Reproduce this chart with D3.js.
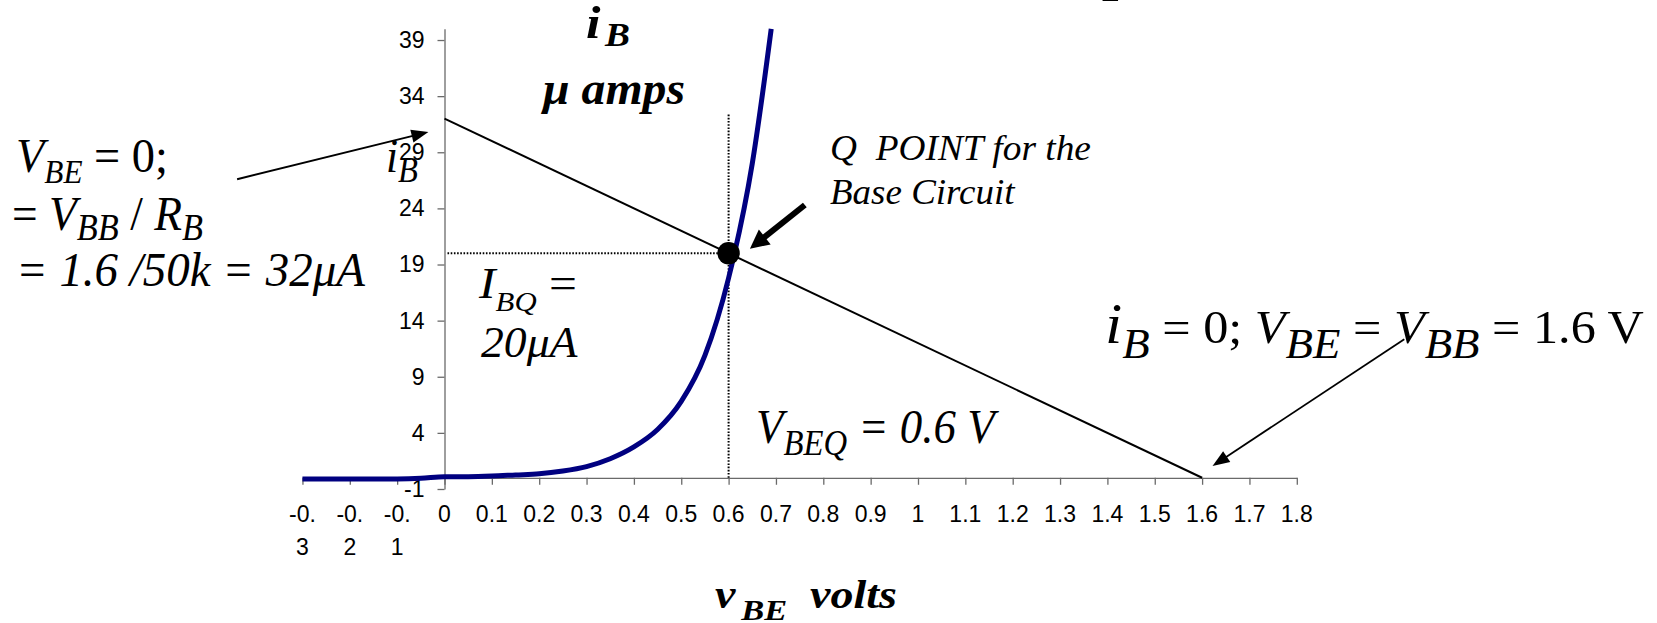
<!DOCTYPE html>
<html>
<head>
<meta charset="utf-8">
<script src="https://cdn.jsdelivr.net/npm/d3@7"></script>
<style>
  html, body { margin: 0; padding: 0; background: #fff; }
  svg { display: block; }
  text { white-space: pre; }
</style>
</head>
<body>
<svg id="chart" width="1657" height="623"></svg>
<script>
// Base-emitter input characteristic: v_BE (volts) against i_B (µA)
const vBE = [-0.3, -0.25, -0.2, -0.15, -0.1, -0.05, 0, 0.05, 0.1, 0.15, 0.2, 0.25, 0.3, 0.35, 0.4, 0.45, 0.5, 0.55, 0.6, 0.65, 0.69];
const iB  = [-0.1, -0.1, -0.1, -0.1, -0.1, -0.05, 0.1, 0.1, 0.15, 0.25, 0.35, 0.6, 1.0, 1.7, 2.75, 4.3, 6.8, 10.9, 17.8, 28.0, 40];

// DC load line of the base circuit (V_BB = 1.6 V, R_B = 50k)
const loadV = [0, 1.6];
const loadI = [32, 0];

// Operating (Q) point and its drop-line extent
const qV = 0.6;
const qI = 20;
const qDropTop = 32.5;

// Axis ticks
const xTicks = [-0.3, -0.2, -0.1, 0, 0.1, 0.2, 0.3, 0.4, 0.5, 0.6, 0.7, 0.8, 0.9, 1, 1.1, 1.2, 1.3, 1.4, 1.5, 1.6, 1.7, 1.8];
const xTickLabels = ["-0.3", "-0.2", "-0.1", "0", "0.1", "0.2", "0.3", "0.4", "0.5", "0.6", "0.7", "0.8", "0.9", "1", "1.1", "1.2", "1.3", "1.4", "1.5", "1.6", "1.7", "1.8"];
const yTicks = [-1, 4, 9, 14, 19, 24, 29, 34, 39];
const yTickLabels = ["-1", "4", "9", "14", "19", "24", "29", "34", "39"];

const SERIF = "'Liberation Serif', 'Times New Roman', Times, serif";
const SANS = "'Liberation Sans', Arial, Helvetica, sans-serif";

const svg = d3.select("#chart");

const x = d3.scaleLinear().domain([-0.3, 1.8]).range([302.45, 1296.8]);
const y = d3.scaleLinear().domain([-1, 40]).range([489, 28.8]);

// ---- axes ----
const axisColor = "#6a6a6a";

const yAxis = svg.append("g")
  .attr("transform", `translate(${x(0)},0)`)
  .call(d3.axisLeft(y).tickValues(yTicks).tickFormat((d, i) => yTickLabels[i])
    .tickSize(7).tickSizeOuter(0).tickPadding(13));
yAxis.selectAll("path, line").attr("stroke", axisColor).attr("stroke-width", 1.3);
yAxis.selectAll("text").attr("font-family", SANS).attr("font-size", 23).attr("fill", "#000");

const xAxis = svg.append("g")
  .attr("transform", `translate(0,${y(0)})`)
  .call(d3.axisBottom(x).tickValues(xTicks).tickFormat("").tickSize(7).tickSizeOuter(0));
xAxis.selectAll("path, line").attr("stroke", axisColor).attr("stroke-width", 1.3);

// x tick labels; negative values wrap onto two lines
const xLab = svg.append("g").attr("font-family", SANS).attr("font-size", 23).attr("fill", "#000")
  .attr("text-anchor", "middle");
xLab.selectAll("text").data(xTicks).join("text")
  .attr("x", d => x(d))
  .attr("y", 521.5)
  .each(function (d, i) {
    const s = xTickLabels[i];
    const t = d3.select(this);
    if (s.startsWith("-")) {
      t.append("tspan").attr("x", x(d)).text(s.slice(0, 3));
      t.append("tspan").attr("x", x(d)).attr("dy", 33.5).text(s.slice(3));
    } else {
      t.text(s);
    }
  });

// ---- guide lines through the Q point ----
svg.append("line")
  .attr("x1", x(qV)).attr("x2", x(qV))
  .attr("y1", y(0)).attr("y2", y(qDropTop))
  .attr("stroke", "#000").attr("stroke-width", 2).attr("stroke-dasharray", "1.6,1.6");
svg.append("line")
  .attr("x1", x(0) + 3).attr("x2", x(qV))
  .attr("y1", y(qI)).attr("y2", y(qI))
  .attr("stroke", "#000").attr("stroke-width", 2).attr("stroke-dasharray", "1.6,1.6");

// ---- load line ----
svg.append("path")
  .datum(loadV.map((v, i) => [v, loadI[i]]))
  .attr("d", d3.line().x(d => x(d[0])).y(d => y(d[1])))
  .attr("fill", "none").attr("stroke", "#000").attr("stroke-width", 2);

// ---- input characteristic ----
svg.append("path")
  .datum(vBE.map((v, i) => [v, iB[i]]))
  .attr("d", d3.line().x(d => x(d[0])).y(d => y(d[1])).curve(d3.curveMonotoneX))
  .attr("fill", "none").attr("stroke", "#000080").attr("stroke-width", 5)
  .attr("stroke-linejoin", "round");

// ---- Q point marker ----
svg.append("circle").attr("cx", x(qV)).attr("cy", y(qI)).attr("r", 11.2).attr("fill", "#000");

// ---- annotation arrows (endpoints in data units) ----
const arrowFrom = [[-0.438, 26.6], [0.761, 24.3], [2.027, 12.34]];
const arrowTo   = [[-0.034, 30.8], [0.645, 20.4], [1.622, 1.05]];
const arrowWidth = [2, 6, 1.8];
const arrowHead  = [[17, 6.5], [19, 9.5], [17, 6.5]];

function arrow(g, x1, y1, x2, y2, sw, hl, hw) {
  const dx = x2 - x1, dy = y2 - y1, L = Math.hypot(dx, dy);
  const ux = dx / L, uy = dy / L;
  const bx = x2 - ux * hl, by = y2 - uy * hl;
  g.append("line").attr("x1", x1).attr("y1", y1).attr("x2", bx + ux * 2).attr("y2", by + uy * 2)
    .attr("stroke", "#000").attr("stroke-width", sw);
  g.append("path")
    .attr("d", `M${x2},${y2}L${bx - uy * hw},${by + ux * hw}L${bx + uy * hw},${by - ux * hw}Z`)
    .attr("fill", "#000");
}
const arrows = svg.append("g");
arrowFrom.forEach((f, i) => {
  const t = arrowTo[i];
  arrow(arrows, x(f[0]), y(f[1]), x(t[0]), y(t[1]), arrowWidth[i], arrowHead[i][0], arrowHead[i][1]);
});

// ---- text with sub-scripts, stretched to a set width ----
function richText(cfg) {
  const t = svg.append("text").attr("x", cfg.x).attr("y", cfg.y)
    .attr("font-family", SERIF).attr("fill", "#000");
  let shift = 0;
  cfg.segs.forEach(s => {
    const sh = s.sh || 0;
    t.append("tspan").attr("dy", sh - shift)
      .attr("font-size", s.size)
      .attr("font-style", s.it ? "italic" : "normal")
      .attr("font-weight", s.b ? "bold" : "normal")
      .text(s.t);
    shift = sh;
  });
  if (cfg.w) {
    const bb = t.node().getBBox();
    const sx = cfg.w / bb.width;
    const ox = bb.x;
    t.attr("transform", `translate(${cfg.x},0) scale(${sx},1) translate(${-ox},0)`);
  }
  return t;
}

// clipped slide heading at the very top
richText({ x: 1040, y: -12, segs: [{ t: "Q point", size: 60, b: true }] });

// vertical axis title
richText({ x: 586, y: 38, w: 44, segs: [
  { t: "i", size: 46, b: true, it: true },
  { t: " ", size: 16, b: true, it: true },
  { t: "B", size: 33, b: true, it: true, sh: 8 }] });
richText({ x: 541, y: 104, w: 144, segs: [{ t: "\u03bc amps", size: 46, b: true, it: true }] });

// horizontal axis title
richText({ x: 715, y: 608, w: 182, segs: [
  { t: "v", size: 40, b: true, it: true },
  { t: " ", size: 20, b: true, it: true },
  { t: "BE", size: 30, b: true, it: true, sh: 12 },
  { t: "  volts", size: 40, b: true, it: true }] });

// i_B tag beside the axis
richText({ x: 386, y: 172, w: 32, segs: [
  { t: "i", size: 48, it: true },
  { t: "B", size: 36, it: true, sh: 10 }] });

// left-hand intercept note
richText({ x: 16, y: 172, w: 152, segs: [
  { t: "V", size: 49, it: true },
  { t: "BE", size: 33, it: true, sh: 11 },
  { t: " = 0;", size: 49 }] });
richText({ x: 12, y: 230, w: 191, segs: [
  { t: "= ", size: 49 },
  { t: "V", size: 49, it: true },
  { t: "BB", size: 37, it: true, sh: 10 },
  { t: " / ", size: 49 },
  { t: "R", size: 49, it: true },
  { t: "B", size: 37, it: true, sh: 10 }] });
richText({ x: 16, y: 286, w: 350, segs: [{ t: "= 1.6 /50k = 32\u03bcA", size: 49, it: true }] });

// Q point caption
richText({ x: 830, y: 160, w: 261, segs: [{ t: "Q  POINT for the", size: 35, it: true }] });
richText({ x: 830, y: 204, w: 186, segs: [{ t: "Base Circuit", size: 35, it: true }] });

// quiescent base current
richText({ x: 478, y: 298, w: 99, segs: [
  { t: "I", size: 45, it: true },
  { t: "BQ", size: 28, it: true, sh: 13 },
  { t: " =", size: 45 }] });
richText({ x: 481, y: 357, w: 97, segs: [{ t: "20\u03bcA", size: 45, it: true }] });

// quiescent base-emitter voltage
richText({ x: 756, y: 443, w: 243, segs: [
  { t: "V", size: 48, it: true },
  { t: "BEQ", size: 35, it: true, sh: 12 },
  { t: " = 0.6 V", size: 48, it: true }] });

// right-hand intercept note
richText({ x: 1105, y: 343, w: 539, segs: [
  { t: "i", size: 58, it: true },
  { t: "B", size: 42, it: true, sh: 15 },
  { t: " = 0; ", size: 47 },
  { t: "V", size: 47, it: true },
  { t: "BE", size: 42, it: true, sh: 15 },
  { t: " = ", size: 47 },
  { t: "V", size: 47, it: true },
  { t: "BB", size: 42, it: true, sh: 15 },
  { t: " = 1.6 V", size: 47 }] });
</script>
</body>
</html>
